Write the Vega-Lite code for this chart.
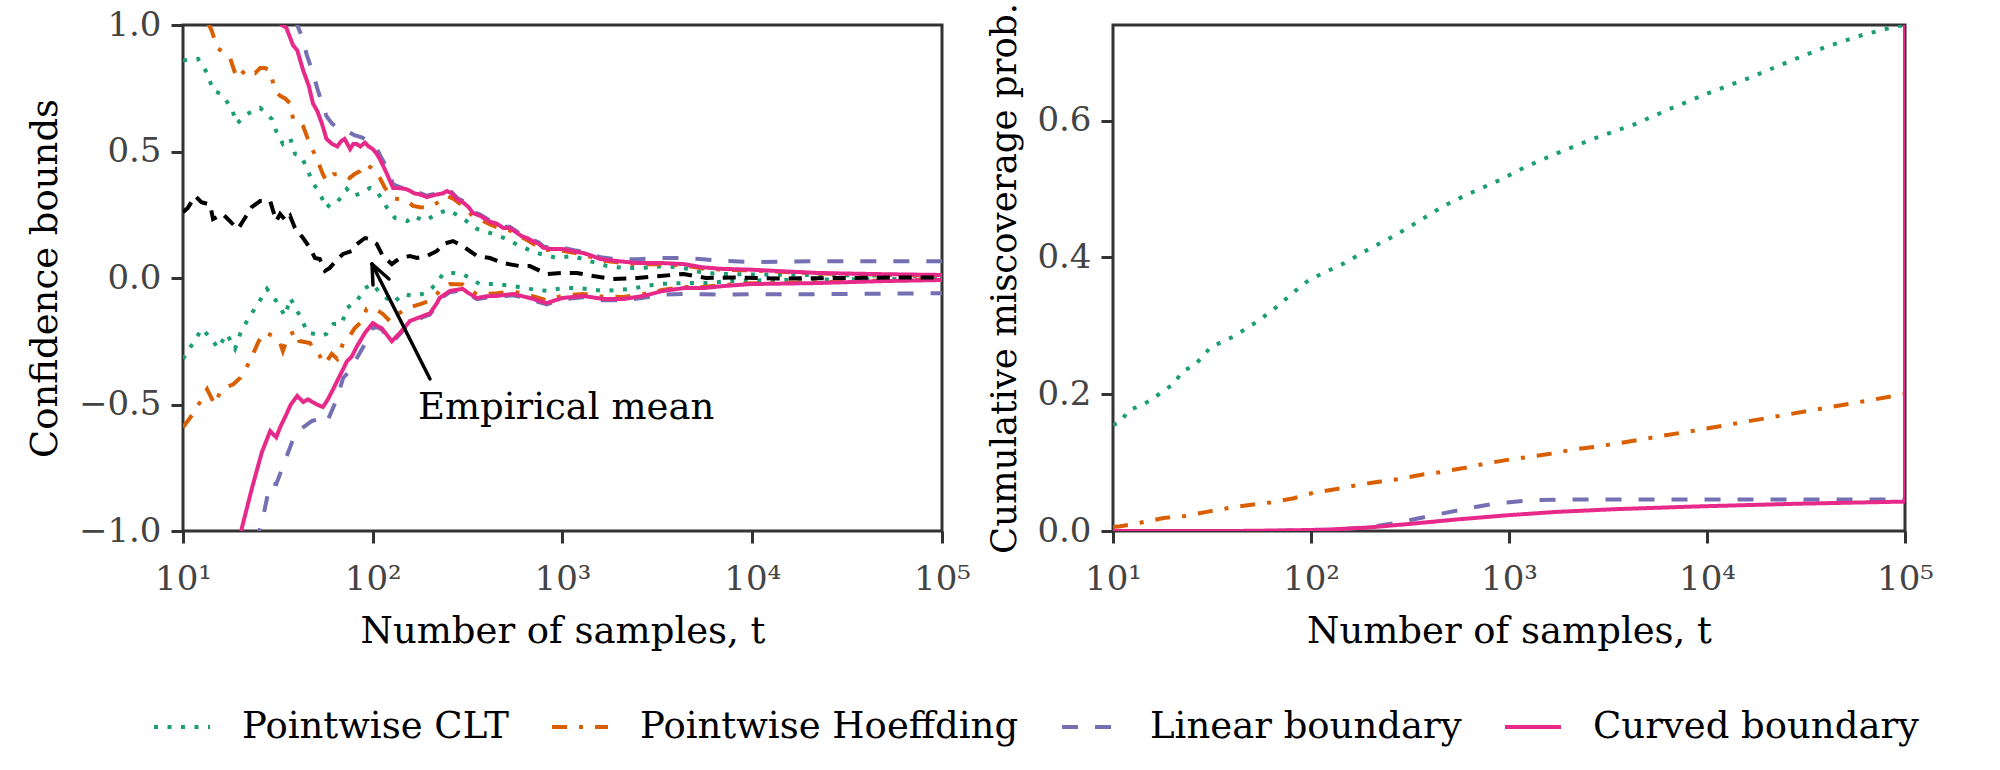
{
  "$schema": "https://vega.github.io/schema/vega-lite/v6.json",
  "background": "white",
  "padding": {"left": 24, "top": 1, "right": 5, "bottom": 5},
  "spacing": 14,
  "config": {
    "font": "DejaVu Serif",
    "view": {"stroke": "#333333", "strokeWidth": 3},
    "axis": {
      "domain": false, "grid": false,
      "labelFont": "DejaVu Serif", "labelFontSize": 34, "labelColor": "#444444",
      "titleFont": "DejaVu Serif", "titleFontSize": 37, "titleFontWeight": "normal", "titleColor": "#000000",
      "tickColor": "#333333", "tickWidth": 3, "tickSize": 12,
      "labelPadding": 10, "titlePadding": 14, "labelFlush": false, "labelOverlap": false
    },
    "axisX": {"labelPadding": 19, "titlePadding": 17},
    "legend": {
      "orient": "none", "legendX": -31, "legendY": 672, "direction": "horizontal",
      "labelFont": "DejaVu Serif", "labelFontSize": 37, "labelColor": "#000000",
      "symbolType": "stroke", "symbolSize": 3136, "symbolStrokeWidth": 4,
      "labelOffset": 30, "columnPadding": 35, "padding": 0, "labelLimit": 0
    }
  },
  "datasets": {
    "bounds": [
      {"method":"Pointwise CLT","side":"u","t":10,"v":0.86},{"method":"Pointwise CLT","side":"u","t":12,"v":0.866},{"method":"Pointwise CLT","side":"u","t":13.5,"v":0.806},{"method":"Pointwise CLT","side":"u","t":14.4,"v":0.74},{"method":"Pointwise CLT","side":"u","t":16,"v":0.727},{"method":"Pointwise CLT","side":"u","t":18.1,"v":0.668},{"method":"Pointwise CLT","side":"u","t":19.2,"v":0.61},{"method":"Pointwise CLT","side":"u","t":21.7,"v":0.648},{"method":"Pointwise CLT","side":"u","t":25.5,"v":0.672},{"method":"Pointwise CLT","side":"u","t":29.4,"v":0.628},{"method":"Pointwise CLT","side":"u","t":31,"v":0.58},{"method":"Pointwise CLT","side":"u","t":33.6,"v":0.53},{"method":"Pointwise CLT","side":"u","t":36.7,"v":0.553},{"method":"Pointwise CLT","side":"u","t":39,"v":0.49},{"method":"Pointwise CLT","side":"u","t":42,"v":0.482},{"method":"Pointwise CLT","side":"u","t":45.6,"v":0.423},{"method":"Pointwise CLT","side":"u","t":48.4,"v":0.375},{"method":"Pointwise CLT","side":"u","t":51,"v":0.35},{"method":"Pointwise CLT","side":"u","t":54,"v":0.316},{"method":"Pointwise CLT","side":"u","t":57,"v":0.277},{"method":"Pointwise CLT","side":"u","t":62,"v":0.304},{"method":"Pointwise CLT","side":"u","t":65.6,"v":0.304},{"method":"Pointwise CLT","side":"u","t":73,"v":0.352},{"method":"Pointwise CLT","side":"u","t":78.7,"v":0.324},{"method":"Pointwise CLT","side":"u","t":88,"v":0.336},{"method":"Pointwise CLT","side":"u","t":96.6,"v":0.356},{"method":"Pointwise CLT","side":"u","t":105,"v":0.344},{"method":"Pointwise CLT","side":"u","t":113,"v":0.304},{"method":"Pointwise CLT","side":"u","t":120,"v":0.273},{"method":"Pointwise CLT","side":"u","t":131,"v":0.237},{"method":"Pointwise CLT","side":"u","t":152,"v":0.225},{"method":"Pointwise CLT","side":"u","t":163,"v":0.245},{"method":"Pointwise CLT","side":"u","t":188,"v":0.225},{"method":"Pointwise CLT","side":"u","t":218,"v":0.253},{"method":"Pointwise CLT","side":"u","t":246,"v":0.269},{"method":"Pointwise CLT","side":"u","t":287,"v":0.245},{"method":"Pointwise CLT","side":"u","t":354,"v":0.194},{"method":"Pointwise CLT","side":"u","t":430,"v":0.174},{"method":"Pointwise CLT","side":"u","t":508,"v":0.154},{"method":"Pointwise CLT","side":"u","t":595,"v":0.126},{"method":"Pointwise CLT","side":"u","t":730,"v":0.099},{"method":"Pointwise CLT","side":"u","t":935,"v":0.079},{"method":"Pointwise CLT","side":"u","t":1130,"v":0.087},{"method":"Pointwise CLT","side":"u","t":1390,"v":0.067},{"method":"Pointwise CLT","side":"u","t":1720,"v":0.047},{"method":"Pointwise CLT","side":"u","t":2100,"v":0.04},{"method":"Pointwise CLT","side":"u","t":2660,"v":0.04},{"method":"Pointwise CLT","side":"u","t":3400,"v":0.047},{"method":"Pointwise CLT","side":"u","t":4350,"v":0.04},{"method":"Pointwise CLT","side":"u","t":5500,"v":0.02},{"method":"Pointwise CLT","side":"u","t":7000,"v":0.016},{"method":"Pointwise CLT","side":"u","t":10000,"v":0.014},{"method":"Pointwise CLT","side":"u","t":20000,"v":0.012},{"method":"Pointwise CLT","side":"u","t":50000,"v":0.01},{"method":"Pointwise CLT","side":"u","t":100000,"v":0.008},
      {"method":"Pointwise CLT","side":"l","t":10,"v":-0.32},{"method":"Pointwise CLT","side":"l","t":11.3,"v":-0.257},{"method":"Pointwise CLT","side":"l","t":12.6,"v":-0.2},{"method":"Pointwise CLT","side":"l","t":14.4,"v":-0.249},{"method":"Pointwise CLT","side":"l","t":15.3,"v":-0.277},{"method":"Pointwise CLT","side":"l","t":17,"v":-0.221},{"method":"Pointwise CLT","side":"l","t":18.8,"v":-0.28},{"method":"Pointwise CLT","side":"l","t":20,"v":-0.221},{"method":"Pointwise CLT","side":"l","t":22,"v":-0.162},{"method":"Pointwise CLT","side":"l","t":24.8,"v":-0.103},{"method":"Pointwise CLT","side":"l","t":27.7,"v":-0.043},{"method":"Pointwise CLT","side":"l","t":31,"v":-0.091},{"method":"Pointwise CLT","side":"l","t":34.5,"v":-0.15},{"method":"Pointwise CLT","side":"l","t":36.7,"v":-0.079},{"method":"Pointwise CLT","side":"l","t":40,"v":-0.13},{"method":"Pointwise CLT","side":"l","t":42,"v":-0.162},{"method":"Pointwise CLT","side":"l","t":45.6,"v":-0.217},{"method":"Pointwise CLT","side":"l","t":49.6,"v":-0.221},{"method":"Pointwise CLT","side":"l","t":54,"v":-0.229},{"method":"Pointwise CLT","side":"l","t":57,"v":-0.221},{"method":"Pointwise CLT","side":"l","t":62,"v":-0.182},{"method":"Pointwise CLT","side":"l","t":68.6,"v":-0.182},{"method":"Pointwise CLT","side":"l","t":73,"v":-0.119},{"method":"Pointwise CLT","side":"l","t":82.5,"v":-0.091},{"method":"Pointwise CLT","side":"l","t":91,"v":-0.04},{"method":"Pointwise CLT","side":"l","t":100,"v":-0.024},{"method":"Pointwise CLT","side":"l","t":109,"v":-0.059},{"method":"Pointwise CLT","side":"l","t":128,"v":-0.099},{"method":"Pointwise CLT","side":"l","t":144,"v":-0.063},{"method":"Pointwise CLT","side":"l","t":163,"v":-0.071},{"method":"Pointwise CLT","side":"l","t":193,"v":-0.059},{"method":"Pointwise CLT","side":"l","t":218,"v":-0.02},{"method":"Pointwise CLT","side":"l","t":234,"v":0.016},{"method":"Pointwise CLT","side":"l","t":265,"v":0.02},{"method":"Pointwise CLT","side":"l","t":298,"v":0.016},{"method":"Pointwise CLT","side":"l","t":366,"v":-0.024},{"method":"Pointwise CLT","side":"l","t":450,"v":-0.024},{"method":"Pointwise CLT","side":"l","t":548,"v":-0.032},{"method":"Pointwise CLT","side":"l","t":673,"v":-0.043},{"method":"Pointwise CLT","side":"l","t":826,"v":-0.051},{"method":"Pointwise CLT","side":"l","t":1000,"v":-0.04},{"method":"Pointwise CLT","side":"l","t":1230,"v":-0.04},{"method":"Pointwise CLT","side":"l","t":1640,"v":-0.051},{"method":"Pointwise CLT","side":"l","t":2280,"v":-0.043},{"method":"Pointwise CLT","side":"l","t":3150,"v":-0.024},{"method":"Pointwise CLT","side":"l","t":4350,"v":-0.02},{"method":"Pointwise CLT","side":"l","t":5960,"v":-0.02},{"method":"Pointwise CLT","side":"l","t":7300,"v":-0.012},{"method":"Pointwise CLT","side":"l","t":10000,"v":-0.01},{"method":"Pointwise CLT","side":"l","t":20000,"v":-0.006},{"method":"Pointwise CLT","side":"l","t":50000,"v":-0.004},{"method":"Pointwise CLT","side":"l","t":100000,"v":-0.004},
      {"method":"Pointwise Hoeffding","side":"u","t":10,"v":1.11},{"method":"Pointwise Hoeffding","side":"u","t":11.2,"v":1.12},{"method":"Pointwise Hoeffding","side":"u","t":12.5,"v":1.06},{"method":"Pointwise Hoeffding","side":"u","t":13.5,"v":1.01},{"method":"Pointwise Hoeffding","side":"u","t":14.2,"v":0.976},{"method":"Pointwise Hoeffding","side":"u","t":15.1,"v":0.91},{"method":"Pointwise Hoeffding","side":"u","t":16.5,"v":0.89},{"method":"Pointwise Hoeffding","side":"u","t":17.7,"v":0.87},{"method":"Pointwise Hoeffding","side":"u","t":19.2,"v":0.79},{"method":"Pointwise Hoeffding","side":"u","t":20.5,"v":0.81},{"method":"Pointwise Hoeffding","side":"u","t":22,"v":0.826},{"method":"Pointwise Hoeffding","side":"u","t":24,"v":0.81},{"method":"Pointwise Hoeffding","side":"u","t":25.5,"v":0.83},{"method":"Pointwise Hoeffding","side":"u","t":27,"v":0.83},{"method":"Pointwise Hoeffding","side":"u","t":28.8,"v":0.82},{"method":"Pointwise Hoeffding","side":"u","t":30.5,"v":0.74},{"method":"Pointwise Hoeffding","side":"u","t":32.5,"v":0.72},{"method":"Pointwise Hoeffding","side":"u","t":34.5,"v":0.71},{"method":"Pointwise Hoeffding","side":"u","t":36.7,"v":0.69},{"method":"Pointwise Hoeffding","side":"u","t":38,"v":0.63},{"method":"Pointwise Hoeffding","side":"u","t":41,"v":0.62},{"method":"Pointwise Hoeffding","side":"u","t":43,"v":0.6},{"method":"Pointwise Hoeffding","side":"u","t":45.5,"v":0.55},{"method":"Pointwise Hoeffding","side":"u","t":48,"v":0.51},{"method":"Pointwise Hoeffding","side":"u","t":50.8,"v":0.47},{"method":"Pointwise Hoeffding","side":"u","t":54.6,"v":0.41},{"method":"Pointwise Hoeffding","side":"u","t":57,"v":0.383},{"method":"Pointwise Hoeffding","side":"u","t":62,"v":0.41},{"method":"Pointwise Hoeffding","side":"u","t":66,"v":0.41},{"method":"Pointwise Hoeffding","side":"u","t":70,"v":0.41},{"method":"Pointwise Hoeffding","side":"u","t":75.6,"v":0.395},{"method":"Pointwise Hoeffding","side":"u","t":80,"v":0.41},{"method":"Pointwise Hoeffding","side":"u","t":85.8,"v":0.423},{"method":"Pointwise Hoeffding","side":"u","t":91,"v":0.45},{"method":"Pointwise Hoeffding","side":"u","t":98.6,"v":0.435},{"method":"Pointwise Hoeffding","side":"u","t":104,"v":0.42},{"method":"Pointwise Hoeffding","side":"u","t":109,"v":0.395},{"method":"Pointwise Hoeffding","side":"u","t":116,"v":0.356},{"method":"Pointwise Hoeffding","side":"u","t":128,"v":0.316},{"method":"Pointwise Hoeffding","side":"u","t":140,"v":0.31},{"method":"Pointwise Hoeffding","side":"u","t":152,"v":0.304},{"method":"Pointwise Hoeffding","side":"u","t":163,"v":0.285},{"method":"Pointwise Hoeffding","side":"u","t":178,"v":0.28},{"method":"Pointwise Hoeffding","side":"u","t":193,"v":0.277},{"method":"Pointwise Hoeffding","side":"u","t":218,"v":0.296},{"method":"Pointwise Hoeffding","side":"u","t":246,"v":0.325},{"method":"Pointwise Hoeffding","side":"u","t":270,"v":0.31},{"method":"Pointwise Hoeffding","side":"u","t":298,"v":0.285},{"method":"Pointwise Hoeffding","side":"u","t":337,"v":0.245},{"method":"Pointwise Hoeffding","side":"u","t":415,"v":0.212},{"method":"Pointwise Hoeffding","side":"u","t":487,"v":0.19},{"method":"Pointwise Hoeffding","side":"u","t":527,"v":0.188},{"method":"Pointwise Hoeffding","side":"u","t":650,"v":0.15},{"method":"Pointwise Hoeffding","side":"u","t":791,"v":0.112},{"method":"Pointwise Hoeffding","side":"u","t":1000,"v":0.108},{"method":"Pointwise Hoeffding","side":"u","t":1285,"v":0.093},{"method":"Pointwise Hoeffding","side":"u","t":1587,"v":0.07},{"method":"Pointwise Hoeffding","side":"u","t":1945,"v":0.062},{"method":"Pointwise Hoeffding","side":"u","t":2480,"v":0.054},{"method":"Pointwise Hoeffding","side":"u","t":3400,"v":0.054},{"method":"Pointwise Hoeffding","side":"u","t":4350,"v":0.05},{"method":"Pointwise Hoeffding","side":"u","t":5500,"v":0.038},{"method":"Pointwise Hoeffding","side":"u","t":7000,"v":0.033},{"method":"Pointwise Hoeffding","side":"u","t":9800,"v":0.03},{"method":"Pointwise Hoeffding","side":"u","t":22000,"v":0.018},{"method":"Pointwise Hoeffding","side":"u","t":50000,"v":0.013},{"method":"Pointwise Hoeffding","side":"u","t":100000,"v":0.01},
      {"method":"Pointwise Hoeffding","side":"l","t":10,"v":-0.59},{"method":"Pointwise Hoeffding","side":"l","t":11.2,"v":-0.54},{"method":"Pointwise Hoeffding","side":"l","t":12.3,"v":-0.49},{"method":"Pointwise Hoeffding","side":"l","t":13.4,"v":-0.44},{"method":"Pointwise Hoeffding","side":"l","t":14.7,"v":-0.5},{"method":"Pointwise Hoeffding","side":"l","t":15.6,"v":-0.455},{"method":"Pointwise Hoeffding","side":"l","t":17,"v":-0.43},{"method":"Pointwise Hoeffding","side":"l","t":18.4,"v":-0.42},{"method":"Pointwise Hoeffding","side":"l","t":20,"v":-0.395},{"method":"Pointwise Hoeffding","side":"l","t":22.5,"v":-0.33},{"method":"Pointwise Hoeffding","side":"l","t":24.8,"v":-0.257},{"method":"Pointwise Hoeffding","side":"l","t":26.4,"v":-0.217},{"method":"Pointwise Hoeffding","side":"l","t":28,"v":-0.22},{"method":"Pointwise Hoeffding","side":"l","t":29.8,"v":-0.229},{"method":"Pointwise Hoeffding","side":"l","t":32.5,"v":-0.257},{"method":"Pointwise Hoeffding","side":"l","t":33.6,"v":-0.289},{"method":"Pointwise Hoeffding","side":"l","t":35,"v":-0.25},{"method":"Pointwise Hoeffding","side":"l","t":36.7,"v":-0.221},{"method":"Pointwise Hoeffding","side":"l","t":39.9,"v":-0.21},{"method":"Pointwise Hoeffding","side":"l","t":41,"v":-0.249},{"method":"Pointwise Hoeffding","side":"l","t":46.7,"v":-0.257},{"method":"Pointwise Hoeffding","side":"l","t":49.6,"v":-0.289},{"method":"Pointwise Hoeffding","side":"l","t":52.6,"v":-0.308},{"method":"Pointwise Hoeffding","side":"l","t":56,"v":-0.34},{"method":"Pointwise Hoeffding","side":"l","t":60.8,"v":-0.3},{"method":"Pointwise Hoeffding","side":"l","t":65,"v":-0.32},{"method":"Pointwise Hoeffding","side":"l","t":69.8,"v":-0.257},{"method":"Pointwise Hoeffding","side":"l","t":75.6,"v":-0.229},{"method":"Pointwise Hoeffding","side":"l","t":80,"v":-0.2},{"method":"Pointwise Hoeffding","side":"l","t":85.8,"v":-0.178},{"method":"Pointwise Hoeffding","side":"l","t":93,"v":-0.122},{"method":"Pointwise Hoeffding","side":"l","t":100,"v":-0.119},{"method":"Pointwise Hoeffding","side":"l","t":107,"v":-0.13},{"method":"Pointwise Hoeffding","side":"l","t":113,"v":-0.142},{"method":"Pointwise Hoeffding","side":"l","t":123,"v":-0.17},{"method":"Pointwise Hoeffding","side":"l","t":136,"v":-0.142},{"method":"Pointwise Hoeffding","side":"l","t":152,"v":-0.119},{"method":"Pointwise Hoeffding","side":"l","t":178,"v":-0.103},{"method":"Pointwise Hoeffding","side":"l","t":200,"v":-0.09},{"method":"Pointwise Hoeffding","side":"l","t":218,"v":-0.063},{"method":"Pointwise Hoeffding","side":"l","t":230,"v":-0.045},{"method":"Pointwise Hoeffding","side":"l","t":255,"v":-0.024},{"method":"Pointwise Hoeffding","side":"l","t":298,"v":-0.026},{"method":"Pointwise Hoeffding","side":"l","t":354,"v":-0.065},{"method":"Pointwise Hoeffding","side":"l","t":450,"v":-0.06},{"method":"Pointwise Hoeffding","side":"l","t":548,"v":-0.053},{"method":"Pointwise Hoeffding","side":"l","t":673,"v":-0.068},{"method":"Pointwise Hoeffding","side":"l","t":826,"v":-0.088},{"method":"Pointwise Hoeffding","side":"l","t":1000,"v":-0.07},{"method":"Pointwise Hoeffding","side":"l","t":1285,"v":-0.063},{"method":"Pointwise Hoeffding","side":"l","t":1640,"v":-0.074},{"method":"Pointwise Hoeffding","side":"l","t":2100,"v":-0.075},{"method":"Pointwise Hoeffding","side":"l","t":2660,"v":-0.064},{"method":"Pointwise Hoeffding","side":"l","t":3400,"v":-0.046},{"method":"Pointwise Hoeffding","side":"l","t":4350,"v":-0.036},{"method":"Pointwise Hoeffding","side":"l","t":5500,"v":-0.036},{"method":"Pointwise Hoeffding","side":"l","t":7000,"v":-0.028},{"method":"Pointwise Hoeffding","side":"l","t":9800,"v":-0.021},{"method":"Pointwise Hoeffding","side":"l","t":22000,"v":-0.017},{"method":"Pointwise Hoeffding","side":"l","t":50000,"v":-0.01},{"method":"Pointwise Hoeffding","side":"l","t":100000,"v":-0.006},
      {"method":"Linear boundary","side":"u","t":35,"v":1.15},{"method":"Linear boundary","side":"u","t":38,"v":1.05},{"method":"Linear boundary","side":"u","t":40,"v":1.0},{"method":"Linear boundary","side":"u","t":42,"v":0.96},{"method":"Linear boundary","side":"u","t":45,"v":0.88},{"method":"Linear boundary","side":"u","t":48.4,"v":0.81},{"method":"Linear boundary","side":"u","t":51,"v":0.75},{"method":"Linear boundary","side":"u","t":54,"v":0.69},{"method":"Linear boundary","side":"u","t":57,"v":0.64},{"method":"Linear boundary","side":"u","t":61,"v":0.61},{"method":"Linear boundary","side":"u","t":66,"v":0.59},{"method":"Linear boundary","side":"u","t":73,"v":0.58},{"method":"Linear boundary","side":"u","t":80,"v":0.565},{"method":"Linear boundary","side":"u","t":88,"v":0.555},{"method":"Linear boundary","side":"u","t":95,"v":0.54},{"method":"Linear boundary","side":"u","t":105,"v":0.51},{"method":"Linear boundary","side":"u","t":112,"v":0.47},{"method":"Linear boundary","side":"u","t":119,"v":0.435},{"method":"Linear boundary","side":"u","t":128,"v":0.37},{"method":"Linear boundary","side":"u","t":140,"v":0.358},{"method":"Linear boundary","side":"u","t":152,"v":0.355},{"method":"Linear boundary","side":"u","t":165,"v":0.34},{"method":"Linear boundary","side":"u","t":178,"v":0.335},{"method":"Linear boundary","side":"u","t":193,"v":0.325},{"method":"Linear boundary","side":"u","t":205,"v":0.33},{"method":"Linear boundary","side":"u","t":218,"v":0.335},{"method":"Linear boundary","side":"u","t":235,"v":0.34},{"method":"Linear boundary","side":"u","t":246,"v":0.348},{"method":"Linear boundary","side":"u","t":260,"v":0.34},{"method":"Linear boundary","side":"u","t":280,"v":0.315},{"method":"Linear boundary","side":"u","t":298,"v":0.305},{"method":"Linear boundary","side":"u","t":320,"v":0.285},{"method":"Linear boundary","side":"u","t":337,"v":0.262},{"method":"Linear boundary","side":"u","t":370,"v":0.25},{"method":"Linear boundary","side":"u","t":415,"v":0.227},{"method":"Linear boundary","side":"u","t":450,"v":0.22},{"method":"Linear boundary","side":"u","t":487,"v":0.203},{"method":"Linear boundary","side":"u","t":527,"v":0.203},{"method":"Linear boundary","side":"u","t":571,"v":0.185},{"method":"Linear boundary","side":"u","t":610,"v":0.17},{"method":"Linear boundary","side":"u","t":650,"v":0.163},{"method":"Linear boundary","side":"u","t":700,"v":0.15},{"method":"Linear boundary","side":"u","t":750,"v":0.14},{"method":"Linear boundary","side":"u","t":791,"v":0.125},{"method":"Linear boundary","side":"u","t":860,"v":0.12},{"method":"Linear boundary","side":"u","t":1000,"v":0.12},{"method":"Linear boundary","side":"u","t":1150,"v":0.11},{"method":"Linear boundary","side":"u","t":1285,"v":0.104},{"method":"Linear boundary","side":"u","t":1400,"v":0.095},{"method":"Linear boundary","side":"u","t":1587,"v":0.082},{"method":"Linear boundary","side":"u","t":1945,"v":0.074},{"method":"Linear boundary","side":"u","t":2480,"v":0.074},{"method":"Linear boundary","side":"u","t":3000,"v":0.078},{"method":"Linear boundary","side":"u","t":3400,"v":0.079},{"method":"Linear boundary","side":"u","t":4350,"v":0.079},{"method":"Linear boundary","side":"u","t":5500,"v":0.074},{"method":"Linear boundary","side":"u","t":7000,"v":0.068},{"method":"Linear boundary","side":"u","t":9800,"v":0.063},{"method":"Linear boundary","side":"u","t":15000,"v":0.065},{"method":"Linear boundary","side":"u","t":22000,"v":0.066},{"method":"Linear boundary","side":"u","t":35000,"v":0.066},{"method":"Linear boundary","side":"u","t":50000,"v":0.066},{"method":"Linear boundary","side":"u","t":100000,"v":0.066},
      {"method":"Linear boundary","side":"l","t":24,"v":-1.05},{"method":"Linear boundary","side":"l","t":26,"v":-0.97},{"method":"Linear boundary","side":"l","t":28.8,"v":-0.81},{"method":"Linear boundary","side":"l","t":31,"v":-0.815},{"method":"Linear boundary","side":"l","t":35,"v":-0.71},{"method":"Linear boundary","side":"l","t":38.9,"v":-0.617},{"method":"Linear boundary","side":"l","t":43,"v":-0.59},{"method":"Linear boundary","side":"l","t":47.8,"v":-0.565},{"method":"Linear boundary","side":"l","t":52.6,"v":-0.557},{"method":"Linear boundary","side":"l","t":57,"v":-0.573},{"method":"Linear boundary","side":"l","t":60.8,"v":-0.526},{"method":"Linear boundary","side":"l","t":64.9,"v":-0.474},{"method":"Linear boundary","side":"l","t":69.8,"v":-0.395},{"method":"Linear boundary","side":"l","t":75.6,"v":-0.368},{"method":"Linear boundary","side":"l","t":82.5,"v":-0.316},{"method":"Linear boundary","side":"l","t":91,"v":-0.26},{"method":"Linear boundary","side":"l","t":100,"v":-0.198},{"method":"Linear boundary","side":"l","t":106,"v":-0.195},{"method":"Linear boundary","side":"l","t":112,"v":-0.205},{"method":"Linear boundary","side":"l","t":126,"v":-0.255},{"method":"Linear boundary","side":"l","t":139,"v":-0.222},{"method":"Linear boundary","side":"l","t":157,"v":-0.175},{"method":"Linear boundary","side":"l","t":170,"v":-0.165},{"method":"Linear boundary","side":"l","t":184,"v":-0.155},{"method":"Linear boundary","side":"l","t":200,"v":-0.145},{"method":"Linear boundary","side":"l","t":218,"v":-0.104},{"method":"Linear boundary","side":"l","t":225,"v":-0.084},{"method":"Linear boundary","side":"l","t":255,"v":-0.056},{"method":"Linear boundary","side":"l","t":298,"v":-0.048},{"method":"Linear boundary","side":"l","t":320,"v":-0.065},{"method":"Linear boundary","side":"l","t":354,"v":-0.084},{"method":"Linear boundary","side":"l","t":400,"v":-0.077},{"method":"Linear boundary","side":"l","t":450,"v":-0.076},{"method":"Linear boundary","side":"l","t":548,"v":-0.068},{"method":"Linear boundary","side":"l","t":600,"v":-0.075},{"method":"Linear boundary","side":"l","t":673,"v":-0.084},{"method":"Linear boundary","side":"l","t":750,"v":-0.095},{"method":"Linear boundary","side":"l","t":826,"v":-0.104},{"method":"Linear boundary","side":"l","t":900,"v":-0.095},{"method":"Linear boundary","side":"l","t":1000,"v":-0.084},{"method":"Linear boundary","side":"l","t":1285,"v":-0.076},{"method":"Linear boundary","side":"l","t":1640,"v":-0.088},{"method":"Linear boundary","side":"l","t":2100,"v":-0.088},{"method":"Linear boundary","side":"l","t":2660,"v":-0.078},{"method":"Linear boundary","side":"l","t":3400,"v":-0.066},{"method":"Linear boundary","side":"l","t":4350,"v":-0.063},{"method":"Linear boundary","side":"l","t":5500,"v":-0.064},{"method":"Linear boundary","side":"l","t":7000,"v":-0.066},{"method":"Linear boundary","side":"l","t":9800,"v":-0.064},{"method":"Linear boundary","side":"l","t":22000,"v":-0.064},{"method":"Linear boundary","side":"l","t":50000,"v":-0.062},{"method":"Linear boundary","side":"l","t":100000,"v":-0.06},
      {"method":"Curved boundary","side":"u","t":30,"v":1.25},{"method":"Curved boundary","side":"u","t":33,"v":1.0},{"method":"Curved boundary","side":"u","t":35,"v":0.99},{"method":"Curved boundary","side":"u","t":38,"v":0.92},{"method":"Curved boundary","side":"u","t":40,"v":0.9},{"method":"Curved boundary","side":"u","t":43,"v":0.82},{"method":"Curved boundary","side":"u","t":46,"v":0.76},{"method":"Curved boundary","side":"u","t":48.4,"v":0.69},{"method":"Curved boundary","side":"u","t":51,"v":0.66},{"method":"Curved boundary","side":"u","t":54,"v":0.61},{"method":"Curved boundary","side":"u","t":57,"v":0.55},{"method":"Curved boundary","side":"u","t":61,"v":0.53},{"method":"Curved boundary","side":"u","t":65,"v":0.52},{"method":"Curved boundary","side":"u","t":68,"v":0.54},{"method":"Curved boundary","side":"u","t":71,"v":0.55},{"method":"Curved boundary","side":"u","t":76,"v":0.51},{"method":"Curved boundary","side":"u","t":79,"v":0.53},{"method":"Curved boundary","side":"u","t":82,"v":0.53},{"method":"Curved boundary","side":"u","t":86,"v":0.52},{"method":"Curved boundary","side":"u","t":91,"v":0.535},{"method":"Curved boundary","side":"u","t":95,"v":0.52},{"method":"Curved boundary","side":"u","t":100,"v":0.51},{"method":"Curved boundary","side":"u","t":105,"v":0.49},{"method":"Curved boundary","side":"u","t":109,"v":0.47},{"method":"Curved boundary","side":"u","t":114,"v":0.44},{"method":"Curved boundary","side":"u","t":119,"v":0.41},{"method":"Curved boundary","side":"u","t":128,"v":0.356},{"method":"Curved boundary","side":"u","t":140,"v":0.355},{"method":"Curved boundary","side":"u","t":152,"v":0.35},{"method":"Curved boundary","side":"u","t":165,"v":0.335},{"method":"Curved boundary","side":"u","t":178,"v":0.33},{"method":"Curved boundary","side":"u","t":193,"v":0.32},{"method":"Curved boundary","side":"u","t":205,"v":0.325},{"method":"Curved boundary","side":"u","t":218,"v":0.33},{"method":"Curved boundary","side":"u","t":235,"v":0.335},{"method":"Curved boundary","side":"u","t":246,"v":0.344},{"method":"Curved boundary","side":"u","t":260,"v":0.335},{"method":"Curved boundary","side":"u","t":280,"v":0.31},{"method":"Curved boundary","side":"u","t":298,"v":0.3},{"method":"Curved boundary","side":"u","t":320,"v":0.28},{"method":"Curved boundary","side":"u","t":337,"v":0.257},{"method":"Curved boundary","side":"u","t":370,"v":0.245},{"method":"Curved boundary","side":"u","t":415,"v":0.222},{"method":"Curved boundary","side":"u","t":450,"v":0.215},{"method":"Curved boundary","side":"u","t":487,"v":0.198},{"method":"Curved boundary","side":"u","t":527,"v":0.198},{"method":"Curved boundary","side":"u","t":571,"v":0.18},{"method":"Curved boundary","side":"u","t":610,"v":0.165},{"method":"Curved boundary","side":"u","t":650,"v":0.158},{"method":"Curved boundary","side":"u","t":700,"v":0.145},{"method":"Curved boundary","side":"u","t":750,"v":0.135},{"method":"Curved boundary","side":"u","t":791,"v":0.12},{"method":"Curved boundary","side":"u","t":860,"v":0.115},{"method":"Curved boundary","side":"u","t":1000,"v":0.115},{"method":"Curved boundary","side":"u","t":1150,"v":0.105},{"method":"Curved boundary","side":"u","t":1285,"v":0.099},{"method":"Curved boundary","side":"u","t":1400,"v":0.09},{"method":"Curved boundary","side":"u","t":1587,"v":0.075},{"method":"Curved boundary","side":"u","t":1945,"v":0.067},{"method":"Curved boundary","side":"u","t":2480,"v":0.059},{"method":"Curved boundary","side":"u","t":3400,"v":0.059},{"method":"Curved boundary","side":"u","t":4350,"v":0.055},{"method":"Curved boundary","side":"u","t":5500,"v":0.042},{"method":"Curved boundary","side":"u","t":7000,"v":0.036},{"method":"Curved boundary","side":"u","t":9800,"v":0.033},{"method":"Curved boundary","side":"u","t":15000,"v":0.026},{"method":"Curved boundary","side":"u","t":22000,"v":0.02},{"method":"Curved boundary","side":"u","t":35000,"v":0.017},{"method":"Curved boundary","side":"u","t":50000,"v":0.015},{"method":"Curved boundary","side":"u","t":100000,"v":0.012},
      {"method":"Curved boundary","side":"l","t":20,"v":-1.05},{"method":"Curved boundary","side":"l","t":20.4,"v":-0.99},{"method":"Curved boundary","side":"l","t":23.1,"v":-0.83},{"method":"Curved boundary","side":"l","t":26,"v":-0.69},{"method":"Curved boundary","side":"l","t":28.8,"v":-0.605},{"method":"Curved boundary","side":"l","t":31,"v":-0.63},{"method":"Curved boundary","side":"l","t":32.5,"v":-0.59},{"method":"Curved boundary","side":"l","t":35,"v":-0.54},{"method":"Curved boundary","side":"l","t":37,"v":-0.5},{"method":"Curved boundary","side":"l","t":40,"v":-0.466},{"method":"Curved boundary","side":"l","t":43,"v":-0.49},{"method":"Curved boundary","side":"l","t":45.6,"v":-0.48},{"method":"Curved boundary","side":"l","t":48,"v":-0.49},{"method":"Curved boundary","side":"l","t":50.8,"v":-0.5},{"method":"Curved boundary","side":"l","t":54.6,"v":-0.51},{"method":"Curved boundary","side":"l","t":58,"v":-0.48},{"method":"Curved boundary","side":"l","t":61.8,"v":-0.44},{"method":"Curved boundary","side":"l","t":65.6,"v":-0.4},{"method":"Curved boundary","side":"l","t":69.8,"v":-0.36},{"method":"Curved boundary","side":"l","t":73,"v":-0.33},{"method":"Curved boundary","side":"l","t":77.6,"v":-0.31},{"method":"Curved boundary","side":"l","t":82.5,"v":-0.27},{"method":"Curved boundary","side":"l","t":91,"v":-0.217},{"method":"Curved boundary","side":"l","t":100,"v":-0.178},{"method":"Curved boundary","side":"l","t":106,"v":-0.19},{"method":"Curved boundary","side":"l","t":112,"v":-0.2},{"method":"Curved boundary","side":"l","t":126,"v":-0.25},{"method":"Curved boundary","side":"l","t":139,"v":-0.217},{"method":"Curved boundary","side":"l","t":157,"v":-0.17},{"method":"Curved boundary","side":"l","t":170,"v":-0.16},{"method":"Curved boundary","side":"l","t":184,"v":-0.15},{"method":"Curved boundary","side":"l","t":200,"v":-0.14},{"method":"Curved boundary","side":"l","t":218,"v":-0.099},{"method":"Curved boundary","side":"l","t":225,"v":-0.079},{"method":"Curved boundary","side":"l","t":255,"v":-0.051},{"method":"Curved boundary","side":"l","t":298,"v":-0.043},{"method":"Curved boundary","side":"l","t":320,"v":-0.06},{"method":"Curved boundary","side":"l","t":354,"v":-0.079},{"method":"Curved boundary","side":"l","t":400,"v":-0.072},{"method":"Curved boundary","side":"l","t":450,"v":-0.071},{"method":"Curved boundary","side":"l","t":548,"v":-0.063},{"method":"Curved boundary","side":"l","t":600,"v":-0.07},{"method":"Curved boundary","side":"l","t":673,"v":-0.079},{"method":"Curved boundary","side":"l","t":750,"v":-0.09},{"method":"Curved boundary","side":"l","t":826,"v":-0.099},{"method":"Curved boundary","side":"l","t":900,"v":-0.09},{"method":"Curved boundary","side":"l","t":1000,"v":-0.079},{"method":"Curved boundary","side":"l","t":1285,"v":-0.071},{"method":"Curved boundary","side":"l","t":1640,"v":-0.083},{"method":"Curved boundary","side":"l","t":2100,"v":-0.083},{"method":"Curved boundary","side":"l","t":2660,"v":-0.071},{"method":"Curved boundary","side":"l","t":3400,"v":-0.051},{"method":"Curved boundary","side":"l","t":4350,"v":-0.04},{"method":"Curved boundary","side":"l","t":5500,"v":-0.04},{"method":"Curved boundary","side":"l","t":7000,"v":-0.032},{"method":"Curved boundary","side":"l","t":9800,"v":-0.024},{"method":"Curved boundary","side":"l","t":22000,"v":-0.02},{"method":"Curved boundary","side":"l","t":50000,"v":-0.012},{"method":"Curved boundary","side":"l","t":100000,"v":-0.008}
    ],
    "mean": [
      {"t":10,"v":0.26},{"t":10.6,"v":0.277},{"t":11.6,"v":0.324},{"t":12.5,"v":0.3},{"t":13.9,"v":0.29},{"t":14.4,"v":0.233},{"t":16.2,"v":0.253},{"t":18.1,"v":0.217},{"t":19.5,"v":0.194},{"t":21.2,"v":0.237},{"t":23,"v":0.28},{"t":25.5,"v":0.304},{"t":28.8,"v":0.304},{"t":31,"v":0.225},{"t":32.5,"v":0.253},{"t":35,"v":0.225},{"t":36.7,"v":0.245},{"t":38.9,"v":0.198},{"t":42.9,"v":0.158},{"t":46.7,"v":0.119},{"t":49.6,"v":0.079},{"t":52.6,"v":0.075},{"t":56,"v":0.028},{"t":59.4,"v":0.04},{"t":65,"v":0.075},{"t":69.8,"v":0.095},{"t":77.6,"v":0.107},{"t":82.5,"v":0.134},{"t":91,"v":0.158},{"t":96.6,"v":0.154},{"t":105,"v":0.134},{"t":113,"v":0.087},{"t":126,"v":0.055},{"t":139,"v":0.079},{"t":157,"v":0.087},{"t":171,"v":0.079},{"t":193,"v":0.087},{"t":218,"v":0.107},{"t":234,"v":0.134},{"t":265,"v":0.146},{"t":298,"v":0.126},{"t":354,"v":0.087},{"t":415,"v":0.079},{"t":487,"v":0.059},{"t":595,"v":0.047},{"t":673,"v":0.047},{"t":826,"v":0.016},{"t":1000,"v":0.02},{"t":1190,"v":0.02},{"t":1450,"v":0.008},{"t":1850,"v":-0.004},{"t":2480,"v":0},{"t":3280,"v":0.008},{"t":4350,"v":0.016},{"t":5700,"v":0},{"t":8000,"v":0.002},{"t":15000,"v":-0.002},{"t":30000,"v":0},{"t":60000,"v":0.002},{"t":100000,"v":0.002}
    ],
    "arrow": [
      {"t":200.3,"v":-0.399,"t2":99.1,"v2":0.0553},
      {"t":99.1,"v":0.0553,"t2":100.3,"v2":-0.0277},
      {"t":99.1,"v":0.0553,"t2":121.8,"v2":-0.004}
    ],
    "note": [{"t":173,"v":-0.557,"label":"Empirical mean"}],
    "miscov": [
      {"method":"Pointwise CLT","t":10,"v":0.155},{"method":"Pointwise CLT","t":11,"v":0.16},{"method":"Pointwise CLT","t":11.9,"v":0.176},{"method":"Pointwise CLT","t":13.7,"v":0.183},{"method":"Pointwise CLT","t":15.9,"v":0.193},{"method":"Pointwise CLT","t":17.9,"v":0.205},{"method":"Pointwise CLT","t":20.3,"v":0.215},{"method":"Pointwise CLT","t":22.3,"v":0.233},{"method":"Pointwise CLT","t":26,"v":0.243},{"method":"Pointwise CLT","t":31.2,"v":0.269},{"method":"Pointwise CLT","t":40.4,"v":0.284},{"method":"Pointwise CLT","t":54,"v":0.307},{"method":"Pointwise CLT","t":68,"v":0.329},{"method":"Pointwise CLT","t":84.8,"v":0.353},{"method":"Pointwise CLT","t":97.6,"v":0.367},{"method":"Pointwise CLT","t":113,"v":0.376},{"method":"Pointwise CLT","t":148,"v":0.392},{"method":"Pointwise CLT","t":198,"v":0.413},{"method":"Pointwise CLT","t":257,"v":0.43},{"method":"Pointwise CLT","t":346,"v":0.452},{"method":"Pointwise CLT","t":465,"v":0.475},{"method":"Pointwise CLT","t":625,"v":0.493},{"method":"Pointwise CLT","t":909,"v":0.514},{"method":"Pointwise CLT","t":1220,"v":0.533},{"method":"Pointwise CLT","t":1770,"v":0.553},{"method":"Pointwise CLT","t":2750,"v":0.575},{"method":"Pointwise CLT","t":4330,"v":0.595},{"method":"Pointwise CLT","t":6700,"v":0.619},{"method":"Pointwise CLT","t":10500,"v":0.642},{"method":"Pointwise CLT","t":16500,"v":0.663},{"method":"Pointwise CLT","t":25600,"v":0.686},{"method":"Pointwise CLT","t":39800,"v":0.708},{"method":"Pointwise CLT","t":62000,"v":0.726},{"method":"Pointwise CLT","t":90000,"v":0.738},{"method":"Pointwise CLT","t":100000,"v":0.74},
      {"method":"Pointwise Hoeffding","t":10,"v":0.006},{"method":"Pointwise Hoeffding","t":10.9,"v":0.007},{"method":"Pointwise Hoeffding","t":13.7,"v":0.012},{"method":"Pointwise Hoeffding","t":18,"v":0.019},{"method":"Pointwise Hoeffding","t":23.1,"v":0.022},{"method":"Pointwise Hoeffding","t":29.8,"v":0.028},{"method":"Pointwise Hoeffding","t":39,"v":0.034},{"method":"Pointwise Hoeffding","t":49,"v":0.038},{"method":"Pointwise Hoeffding","t":63.5,"v":0.042},{"method":"Pointwise Hoeffding","t":82,"v":0.048},{"method":"Pointwise Hoeffding","t":103,"v":0.056},{"method":"Pointwise Hoeffding","t":132,"v":0.061},{"method":"Pointwise Hoeffding","t":170,"v":0.067},{"method":"Pointwise Hoeffding","t":220,"v":0.072},{"method":"Pointwise Hoeffding","t":281,"v":0.076},{"method":"Pointwise Hoeffding","t":355,"v":0.082},{"method":"Pointwise Hoeffding","t":447,"v":0.086},{"method":"Pointwise Hoeffding","t":590,"v":0.092},{"method":"Pointwise Hoeffding","t":745,"v":0.098},{"method":"Pointwise Hoeffding","t":980,"v":0.104},{"method":"Pointwise Hoeffding","t":1235,"v":0.108},{"method":"Pointwise Hoeffding","t":1620,"v":0.113},{"method":"Pointwise Hoeffding","t":2100,"v":0.119},{"method":"Pointwise Hoeffding","t":2710,"v":0.123},{"method":"Pointwise Hoeffding","t":3680,"v":0.129},{"method":"Pointwise Hoeffding","t":9100,"v":0.148},{"method":"Pointwise Hoeffding","t":19000,"v":0.164},{"method":"Pointwise Hoeffding","t":39800,"v":0.18},{"method":"Pointwise Hoeffding","t":90000,"v":0.198},{"method":"Pointwise Hoeffding","t":100000,"v":0.2},
      {"method":"Linear boundary","t":10,"v":0},{"method":"Linear boundary","t":50,"v":0},{"method":"Linear boundary","t":100,"v":0.001},{"method":"Linear boundary","t":150,"v":0.003},{"method":"Linear boundary","t":200,"v":0.006},{"method":"Linear boundary","t":272,"v":0.012},{"method":"Linear boundary","t":417,"v":0.023},{"method":"Linear boundary","t":590,"v":0.032},{"method":"Linear boundary","t":845,"v":0.04},{"method":"Linear boundary","t":1280,"v":0.045},{"method":"Linear boundary","t":2000,"v":0.046},{"method":"Linear boundary","t":10000,"v":0.046},{"method":"Linear boundary","t":100000,"v":0.046},
      {"method":"Curved boundary","t":10,"v":0},{"method":"Curved boundary","t":40,"v":0},{"method":"Curved boundary","t":80,"v":0.001},{"method":"Curved boundary","t":120,"v":0.002},{"method":"Curved boundary","t":192,"v":0.005},{"method":"Curved boundary","t":305,"v":0.01},{"method":"Curved boundary","t":550,"v":0.017},{"method":"Curved boundary","t":980,"v":0.023},{"method":"Curved boundary","t":1750,"v":0.028},{"method":"Curved boundary","t":3500,"v":0.032},{"method":"Curved boundary","t":9100,"v":0.036},{"method":"Curved boundary","t":30000,"v":0.04},{"method":"Curved boundary","t":100000,"v":0.043},{"method":"Curved boundary","t":100000,"v":1}
    ]
  },
  "hconcat": [
    {
      "width": 759,
      "height": 506,
      "layer": [
        {
          "mark": {"type": "rule", "color": "#bdbdbd", "strokeWidth": 4},
          "encoding": {"y": {"datum": 0, "type": "quantitative", "scale": {"domain": [-1, 1]}, "title": "Confidence bounds"}}
        },
        {
          "data": {"name": "bounds"},
          "mark": {"type": "line", "clip": true, "strokeWidth": 4},
          "encoding": {
            "x": {
              "field": "t", "type": "quantitative",
              "scale": {"type": "log", "domain": [10, 100000]},
              "title": "Number of samples, t",
              "axis": {
                "values": [10, 100, 1000, 10000, 100000],
                "labelExpr": "datum.value == 10 ? '10¹' : datum.value == 100 ? '10²' : datum.value == 1000 ? '10³' : datum.value == 10000 ? '10⁴' : '10⁵'"
              }
            },
            "y": {
              "field": "v", "type": "quantitative",
              "scale": {"domain": [-1, 1]},
              "title": "Confidence bounds",
              "axis": {"values": [-1, -0.5, 0, 0.5, 1], "format": ".1f", "labelExpr": "replace(datum.label, '-', '−')"}
            },
            "color": {
              "field": "method", "type": "nominal", "title": null,
              "scale": {"domain": ["Pointwise CLT", "Pointwise Hoeffding", "Linear boundary", "Curved boundary"], "range": ["#1b9e77", "#d95f02", "#7570b3", "#e7298a"]}
            },
            "strokeDash": {
              "field": "method", "type": "nominal", "title": null,
              "scale": {"domain": ["Pointwise CLT", "Pointwise Hoeffding", "Linear boundary", "Curved boundary"], "range": [[4, 9.5], [15, 12, 4, 12], [16, 17], [1, 0]]}
            },
            "detail": {"field": "side", "type": "nominal"}
          }
        },
        {
          "data": {"name": "mean"},
          "mark": {"type": "line", "clip": true, "color": "#000000", "strokeWidth": 4, "strokeDash": [13, 9]},
          "encoding": {
            "x": {"field": "t", "type": "quantitative", "scale": {"type": "log", "domain": [10, 100000]}, "title": "Number of samples, t"},
            "y": {"field": "v", "type": "quantitative", "scale": {"domain": [-1, 1]}, "title": "Confidence bounds"}
          }
        },
        {
          "data": {"name": "arrow"},
          "mark": {"type": "rule", "color": "#000000", "strokeWidth": 3.5, "strokeCap": "round"},
          "encoding": {
            "x": {"field": "t", "type": "quantitative", "scale": {"type": "log", "domain": [10, 100000]}, "title": "Number of samples, t"},
            "y": {"field": "v", "type": "quantitative", "scale": {"domain": [-1, 1]}, "title": "Confidence bounds"},
            "x2": {"field": "t2"},
            "y2": {"field": "v2"}
          }
        },
        {
          "data": {"name": "note"},
          "mark": {"type": "text", "font": "DejaVu Serif", "fontSize": 37, "align": "left", "baseline": "alphabetic", "color": "#000000"},
          "encoding": {
            "x": {"field": "t", "type": "quantitative", "scale": {"type": "log", "domain": [10, 100000]}, "title": "Number of samples, t"},
            "y": {"field": "v", "type": "quantitative", "scale": {"domain": [-1, 1]}, "title": "Confidence bounds"},
            "text": {"field": "label"}
          }
        }
      ]
    },
    {
      "width": 792,
      "height": 506,
      "layer": [
        {
          "mark": {"type": "rule", "color": "#bdbdbd", "strokeWidth": 4},
          "encoding": {"y": {"datum": 0.05, "type": "quantitative", "scale": {"domain": [0, 0.74]}, "title": "Cumulative miscoverage prob."}}
        },
        {
          "data": {"name": "miscov"},
          "mark": {"type": "line", "clip": true, "strokeWidth": 4},
          "encoding": {
            "x": {
              "field": "t", "type": "quantitative",
              "scale": {"type": "log", "domain": [10, 100000]},
              "title": "Number of samples, t",
              "axis": {
                "values": [10, 100, 1000, 10000, 100000],
                "labelExpr": "datum.value == 10 ? '10¹' : datum.value == 100 ? '10²' : datum.value == 1000 ? '10³' : datum.value == 10000 ? '10⁴' : '10⁵'"
              }
            },
            "y": {
              "field": "v", "type": "quantitative",
              "scale": {"domain": [0, 0.74]},
              "title": "Cumulative miscoverage prob.",
              "axis": {"values": [0, 0.2, 0.4, 0.6], "format": ".1f", "titleFontSize": 35.5}
            },
            "color": {
              "field": "method", "type": "nominal", "title": null,
              "scale": {"domain": ["Pointwise CLT", "Pointwise Hoeffding", "Linear boundary", "Curved boundary"], "range": ["#1b9e77", "#d95f02", "#7570b3", "#e7298a"]}
            },
            "strokeDash": {
              "field": "method", "type": "nominal", "title": null,
              "scale": {"domain": ["Pointwise CLT", "Pointwise Hoeffding", "Linear boundary", "Curved boundary"], "range": [[4, 9.5], [15, 12, 4, 12], [16, 17], [1, 0]]}
            }
          }
        }
      ]
    }
  ]
}
